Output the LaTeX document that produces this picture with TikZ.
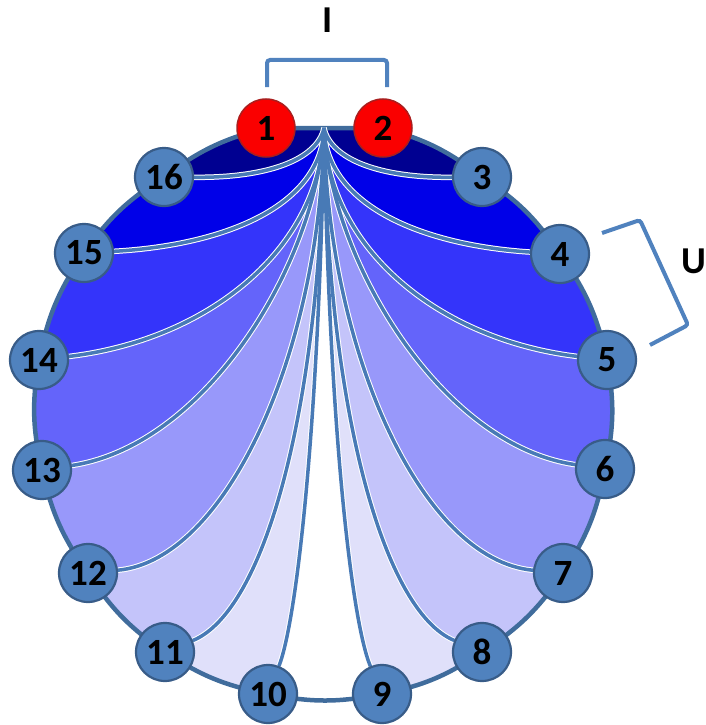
\documentclass[tikz,border=0pt]{standalone}
\usepackage{fontspec}
\setmainfont{Carlito}
\usetikzlibrary{calc}
\pgfdeclarelayer{fills}
\pgfdeclarelayer{lines}
\pgfsetlayers{fills,lines,main}
% potential bands, darkest next to the injecting pair
\definecolor{bandA}{RGB}{0,0,145}
\definecolor{bandB}{RGB}{0,0,232}
\definecolor{bandC}{RGB}{52,52,250}
\definecolor{bandD}{RGB}{100,100,250}
\definecolor{bandE}{RGB}{152,152,250}
\definecolor{bandF}{RGB}{196,196,250}
\definecolor{bandG}{RGB}{224,224,250}
\definecolor{ringblue}{RGB}{64,108,156}
\definecolor{fieldline}{RGB}{72,122,182}
\definecolor{padfill}{RGB}{80,130,190}
\definecolor{padedge}{RGB}{56,92,136}
\definecolor{injfill}{RGB}{250,0,0}
\definecolor{injedge}{RGB}{170,30,30}
\begin{document}
\begin{tikzpicture}[x=1pt,y=-1pt,
  pad/.style={circle,draw=padedge,line width=2.2pt,fill=padfill,minimum size=58pt,inner sep=0pt,
    font=\fontsize{37}{37}\selectfont\bfseries},
  inj/.style={pad,fill=injfill,draw=injedge,line width=1.5pt},
  ring/.style={draw=ringblue,line width=4.5pt},
  fline/.style={draw=fieldline,line width=3.5pt},
  fhalo/.style={draw=white,line width=5.5pt},
  rimcw/.style={bend left=11.25},
  rimccw/.style={bend right=11.25},
  bracket/.style={draw=padfill,line width=4pt,rounded corners=3pt},
  lbl/.style={font=\fontsize{38}{38}\selectfont\bfseries}]
\useasboundingbox (0,0) rectangle (706,725);

% electrodes
\node[inj] (e1) at (266,128) {1};
\node[inj] (e2) at (383,128) {2};
\node[pad] (e3) at (482,177) {3};
\node[pad] (e4) at (560,254) {4};
\node[pad] (e5) at (607,360) {5};
\node[pad] (e6) at (605,469) {6};
\node[pad] (e7) at (563,573) {7};
\node[pad] (e8) at (482,652) {8};
\node[pad] (e9) at (382,694) {9};
\node[pad] (e10) at (268,694) {10};
\node[pad] (e11) at (165,652) {11};
\node[pad] (e12) at (88,573) {12};
\node[pad] (e13) at (42,470) {13};
\node[pad] (e14) at (39,360) {14};
\node[pad] (e15) at (84,253) {15};
\node[pad] (e16) at (164,177) {16};
\coordinate (S) at (324,128);

% control points of the field lines (a = near the source, b = near the electrode)
\foreach \k/\ax/\ay/\bx/\by in {
    3/331/160/381/178, 4/326/205/421/245, 5/327/250/441/340,
    6/331/262/441/445, 7/327/350/421/560, 8/327/400/381/610,
    9/329/420/351/620, 10/319/420/297/620, 11/321/400/267/610,
    12/321/350/227/560, 13/317/262/207/445, 14/321/250/207/340,
    15/322/205/227/245, 16/317/160/267/178}{
  \coordinate (a\k) at (\ax,\ay);
  \coordinate (b\k) at (\bx,\by);
  \coordinate (t\k) at ($(e\k.center)!30pt!(b\k)$);
}

% labels and brackets
\node[lbl] (lblI) at (328,20) {I};
\node[lbl] (lblU) at (694,261) {U};
\draw[bracket] (267,87) -- (267,60) -- (387,60) -- (387,87);
\draw[bracket] (602,233) -- (640,220) -- (688,325) -- (650,345);

\begin{pgfonlayer}{fills}
% right half, nested regions from the lightest inwards
\fill[bandG] (S) .. controls (a9) and (b9) .. (t9) -- (e9.center)
  to[rimccw] (e8.center) to[rimccw] (e7.center) to[rimccw] (e6.center)
  to[rimccw] (e5.center) to[rimccw] (e4.center) to[rimccw] (e3.center)
  to[rimccw] (e2.center) -- cycle;
\fill[bandF] (S) .. controls (a8) and (b8) .. (t8) -- (e8.center)
  to[rimccw] (e7.center) to[rimccw] (e6.center)
  to[rimccw] (e5.center) to[rimccw] (e4.center) to[rimccw] (e3.center)
  to[rimccw] (e2.center) -- cycle;
\fill[bandE] (S) .. controls (a7) and (b7) .. (t7) -- (e7.center)
  to[rimccw] (e6.center)
  to[rimccw] (e5.center) to[rimccw] (e4.center) to[rimccw] (e3.center)
  to[rimccw] (e2.center) -- cycle;
\fill[bandD] (S) .. controls (a6) and (b6) .. (t6) -- (e6.center)
  to[rimccw] (e5.center) to[rimccw] (e4.center) to[rimccw] (e3.center)
  to[rimccw] (e2.center) -- cycle;
\fill[bandC] (S) .. controls (a5) and (b5) .. (t5) -- (e5.center)
  to[rimccw] (e4.center) to[rimccw] (e3.center)
  to[rimccw] (e2.center) -- cycle;
\fill[bandB] (S) .. controls (a4) and (b4) .. (t4) -- (e4.center)
  to[rimccw] (e3.center) to[rimccw] (e2.center) -- cycle;
\fill[bandA] (S) .. controls (a3) and (b3) .. (t3) -- (e3.center)
  to[rimccw] (e2.center) -- cycle;
% left half
\fill[bandG] (S) .. controls (a10) and (b10) .. (t10) -- (e10.center)
  to[rimcw] (e11.center) to[rimcw] (e12.center) to[rimcw] (e13.center)
  to[rimcw] (e14.center) to[rimcw] (e15.center) to[rimcw] (e16.center)
  to[rimcw] (e1.center) -- cycle;
\fill[bandF] (S) .. controls (a11) and (b11) .. (t11) -- (e11.center)
  to[rimcw] (e12.center) to[rimcw] (e13.center)
  to[rimcw] (e14.center) to[rimcw] (e15.center) to[rimcw] (e16.center)
  to[rimcw] (e1.center) -- cycle;
\fill[bandE] (S) .. controls (a12) and (b12) .. (t12) -- (e12.center)
  to[rimcw] (e13.center)
  to[rimcw] (e14.center) to[rimcw] (e15.center) to[rimcw] (e16.center)
  to[rimcw] (e1.center) -- cycle;
\fill[bandD] (S) .. controls (a13) and (b13) .. (t13) -- (e13.center)
  to[rimcw] (e14.center) to[rimcw] (e15.center) to[rimcw] (e16.center)
  to[rimcw] (e1.center) -- cycle;
\fill[bandC] (S) .. controls (a14) and (b14) .. (t14) -- (e14.center)
  to[rimcw] (e15.center) to[rimcw] (e16.center)
  to[rimcw] (e1.center) -- cycle;
\fill[bandB] (S) .. controls (a15) and (b15) .. (t15) -- (e15.center)
  to[rimcw] (e16.center) to[rimcw] (e1.center) -- cycle;
\fill[bandA] (S) .. controls (a16) and (b16) .. (t16) -- (e16.center)
  to[rimcw] (e1.center) -- cycle;
\end{pgfonlayer}

\begin{pgfonlayer}{lines}
% outer boundary
\draw[ring] (e1.center) -- (e2.center)
  to[rimcw] (e3.center) to[rimcw] (e4.center) to[rimcw] (e5.center)
  to[rimcw] (e6.center) to[rimcw] (e7.center) to[rimcw] (e8.center)
  to[rimcw] (e9.center) to[rimcw] (e10.center) to[rimcw] (e11.center)
  to[rimcw] (e12.center) to[rimcw] (e13.center) to[rimcw] (e14.center)
  to[rimcw] (e15.center) to[rimcw] (e16.center) to[rimcw] (e1.center);
% field lines from the injection point to every measuring electrode
\foreach \sty in {fhalo,fline}{
  \foreach \k in {3,...,16}{
    \draw[\sty] (S) .. controls (a\k) and (b\k) .. (t\k);
  }
}
\end{pgfonlayer}
\end{tikzpicture}
\end{document}
